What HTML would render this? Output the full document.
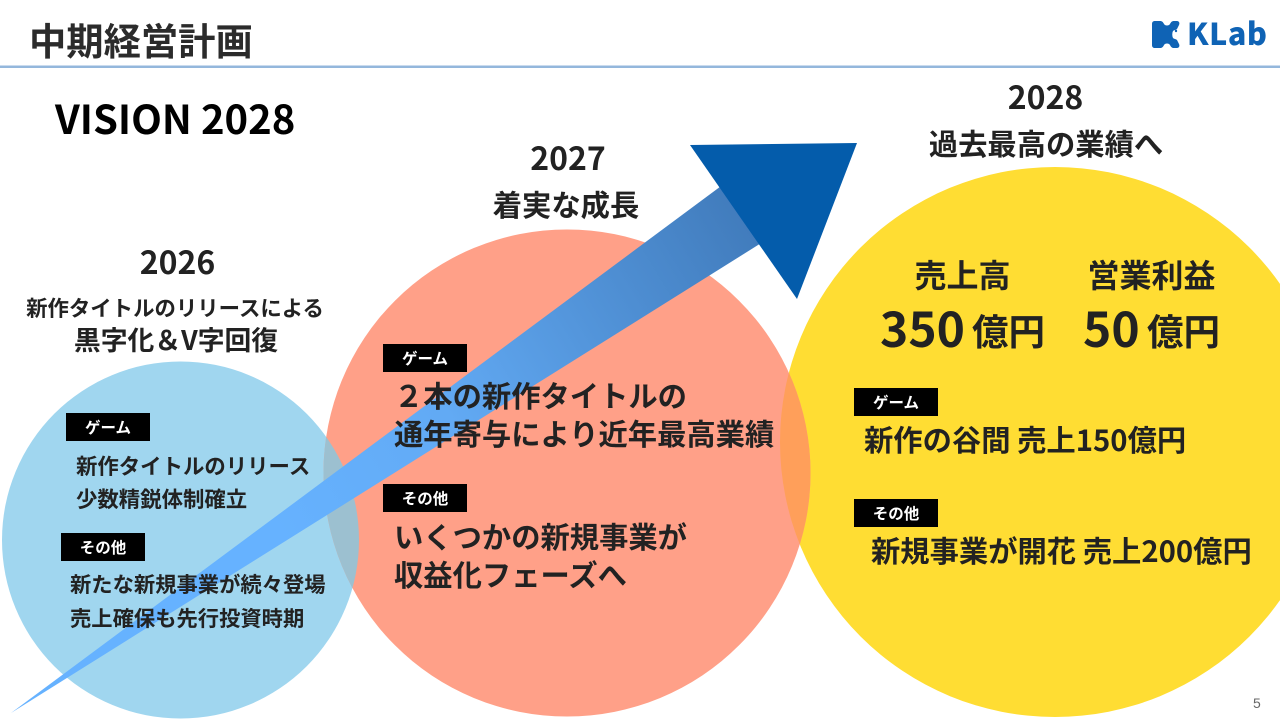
<!DOCTYPE html>
<html lang="ja"><head><meta charset="utf-8"><style>
html,body{margin:0;padding:0;background:#fff}
#s{position:relative;width:1280px;height:720px;overflow:hidden;background:#fff;font-family:"Liberation Sans","Noto Sans CJK JP",sans-serif;font-weight:700;color:#222}
#s svg{position:absolute;left:0;top:0}
.t{position:absolute;white-space:nowrap;line-height:1;font-family:"Noto Sans CJK JP",sans-serif;font-weight:700}
.c{transform:translateX(-50%)}
.b{position:absolute;background:#000;color:#fff;width:84px;height:28px;line-height:28px;text-align:center;font-family:"Noto Sans CJK JP",sans-serif;font-size:15.5px;font-weight:700}
</style></head><body><div id="s">
<svg width="1280" height="720" viewBox="0 0 1280 720">
<defs>
<linearGradient id="g" gradientUnits="userSpaceOnUse" x1="260" y1="500" x2="760" y2="200">
<stop offset="0" stop-color="#66b2ff"/><stop offset="0.35" stop-color="#62aaf4"/><stop offset="1" stop-color="#3f79b9"/>
</linearGradient>
<clipPath id="cb"><circle cx="180.5" cy="540" r="178.5"/></clipPath>
<clipPath id="cy"><circle cx="1055" cy="442" r="275"/></clipPath>
</defs>
<rect x="0" y="65.5" width="1280" height="2.5" fill="#94b7dc"/>
<circle cx="180.5" cy="540" r="178.5" fill="#a0d6ef"/>
<circle cx="1055" cy="442" r="275" fill="#ffdd33"/>
<circle cx="567" cy="473" r="243.5" fill="#ffa088"/>
<circle cx="567" cy="473" r="243.5" fill="#9cc0d0" clip-path="url(#cb)"/>
<circle cx="567" cy="473" r="243.5" fill="#ff9f5a" clip-path="url(#cy)"/>
<polygon points="11,713 740,172 790,225" fill="url(#g)"/>
<polygon points="690,145 857,143 797,299" fill="#045cab"/>
<path d="M1155 21h5c2 0 3 1 4 3 1 2 5 2 6 0 1-2 2-3 4-3h3c2 0 3 2 2 4l-2 4c-1 1-3 1-4 2-1 2-1 5 0 7 1 1 3 1 4 2l2 4c1 2 0 4-2 4h-3c-2 0-3-1-4-3-1-2-5-2-6 0-1 2-2 3-4 3h-5c-2 0-3-1-3-3V24c0-2 1-3 3-3z" fill="#0f63b5"/>
<circle cx="1176" cy="31" r="1.2" fill="#0f63b5"/>
<circle cx="1178" cy="34" r="1.3" fill="#fff"/><circle cx="1178" cy="37.5" r="1.3" fill="#fff"/>
</svg>
<div class="t" style="left:29px;top:21px;font-size:37.3px;color:#2b2b2b">中期経営計画</div>
<div class="t" style="left:1187px;top:17px;font-size:30.5px;color:#0f63b5;letter-spacing:.5px;font-weight:900">KLab</div>
<div class="t" style="left:55px;top:97px;font-size:40px;color:#000">VISION 2028</div>

<div class="t c" style="left:177.5px;top:245px;font-size:32px">2026</div>
<div class="t c" style="left:175px;top:297px;font-size:21.4px">新作タイトルのリリースによる</div>
<div class="t c" style="left:176px;top:326px;font-size:26.8px">黒字化＆V字回復</div>
<div class="b" style="left:66px;top:413px">ゲーム</div>
<div class="t" style="left:76px;top:455px;font-size:21.4px">新作タイトルのリリース</div>
<div class="t" style="left:76px;top:488px;font-size:21.4px">少数精鋭体制確立</div>
<div class="b" style="left:61px;top:533px">その他</div>
<div class="t" style="left:70px;top:573px;font-size:21.3px">新たな新規事業が続々登場</div>
<div class="t" style="left:70px;top:607px;font-size:21.3px">売上確保も先行投資時期</div>

<div class="t c" style="left:568px;top:141px;font-size:32px">2027</div>
<div class="t c" style="left:566px;top:190px;font-size:29.3px">着実な成長</div>
<div class="b" style="left:383px;top:344px">ゲーム</div>
<div class="t" style="left:394px;top:381px;font-size:29.3px">２本の新作タイトルの</div>
<div class="t" style="left:394px;top:419px;font-size:29.3px">通年寄与により近年最高業績</div>
<div class="b" style="left:383px;top:484px">その他</div>
<div class="t" style="left:394px;top:522px;font-size:29.3px">いくつかの新規事業が</div>
<div class="t" style="left:394px;top:560px;font-size:29.3px">収益化フェーズへ</div>

<div class="t c" style="left:1045.5px;top:80px;font-size:32px">2028</div>
<div class="t c" style="left:1046px;top:129px;font-size:29.3px">過去最高の業績へ</div>
<div class="t c" style="left:962.5px;top:258px;font-size:32px">売上高</div>
<div class="t c" style="left:1151.5px;top:258px;font-size:32px">営業利益</div>
<div class="t" style="left:880px;top:302px;font-size:48px">350</div>
<div class="t" style="left:972px;top:312px;font-size:36.5px">億円</div>
<div class="t" style="left:1083px;top:302px;font-size:48px">50</div>
<div class="t" style="left:1147px;top:312px;font-size:36.5px">億円</div>
<div class="b" style="left:854px;top:388px">ゲーム</div>
<div class="t" style="left:864px;top:425px;font-size:29.3px">新作の谷間 売上150億円</div>
<div class="b" style="left:854px;top:499px">その他</div>
<div class="t" style="left:871px;top:536px;font-size:29.3px">新規事業が開花 売上200億円</div>
<div style="position:absolute;left:1253px;top:696px;font-size:14px;font-weight:400;color:#666;line-height:1">5</div>
</div></body></html>
